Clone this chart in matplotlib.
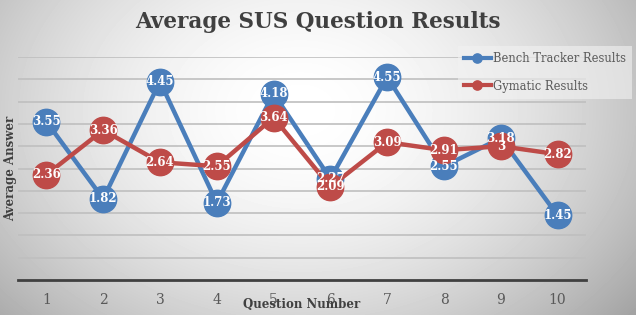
import numpy as np
import matplotlib
matplotlib.use("Agg")
import matplotlib.pyplot as plt

questions = [1, 2, 3, 4, 5, 6, 7, 8, 9, 10]
bench = [3.55, 1.82, 4.45, 1.73, 4.18, 2.27, 4.55, 2.55, 3.18, 1.45]
gymatic = [2.36, 3.36, 2.64, 2.55, 3.64, 2.09, 3.09, 2.91, 3.00, 2.82]
bench_labels = ["3.55", "1.82", "4.45", "1.73", "4.18", "2.27", "4.55", "2.55", "3.18", "1.45"]
gym_labels = ["2.36", "3.36", "2.64", "2.55", "3.64", "2.09", "3.09", "2.91", "3", "2.82"]

BLUE = "#4a7ebb"
RED = "#be4b48"
SERIF = ["DejaVu Serif"]

fig = plt.figure(figsize=(6.36, 3.15), dpi=100)

# radial gradient background
bg = fig.add_axes([0, 0, 1, 1], zorder=0)
h, w = 315, 636
yy, xx = np.mgrid[0:h, 0:w]
r = np.sqrt(((xx - 300) / 430.0) ** 2 + ((yy - 110) / 320.0) ** 2)
val = 1.0 - 0.36 * np.clip(r, 0, 1.2) ** 1.8
bg.imshow(val, cmap="gray", vmin=0, vmax=1, aspect="auto", interpolation="bilinear")
bg.axis("off")

ax = fig.add_axes([18 / 636, 35 / 315, 568 / 636, 223 / 315], zorder=1)
ax.patch.set_alpha(0)

ax.set_xlim(0.5, 10.5)
ax.set_ylim(0, 5)
ax.set_yticks(np.arange(0.5, 5.01, 0.5))
ax.yaxis.grid(True, color="#bfbfbf", linewidth=1.2)
ax.set_axisbelow(True)
ax.tick_params(axis="y", left=False, labelleft=False)
ax.tick_params(axis="x", bottom=False, labelsize=10, labelcolor="#595959", pad=6)
ax.set_xticks(questions)
ax.set_xticklabels([str(q) for q in questions], family=SERIF)
for s in ["top", "right", "left"]:
    ax.spines[s].set_visible(False)
ax.spines["bottom"].set_color("#404040")
ax.spines["bottom"].set_linewidth(2)

ax.plot(questions, bench, color=BLUE, linewidth=3.2, marker="o",
        markersize=19, label="Bench Tracker Results", zorder=3)
ax.plot(questions, gymatic, color=RED, linewidth=3.2, marker="o",
        markersize=19, label="Gymatic Results", zorder=4)

for x, y, t in zip(questions, bench, bench_labels):
    ax.text(x, y, t, ha="center", va="center", color="white",
            fontsize=8.5, fontweight="bold", family=SERIF, zorder=6)
for x, y, t in zip(questions, gymatic, gym_labels):
    ax.text(x, y, t, ha="center", va="center", color="white",
            fontsize=8.5, fontweight="bold", family=SERIF, zorder=6)

fig.text(0.5, 0.93, "Average SUS Question Results", ha="center", va="center",
         fontsize=15.5, fontweight="bold", color="#404040", family=SERIF)
fig.text(0.017, (315 - 168) / 315, "Average Answer", rotation=90,
         ha="center", va="center", fontsize=8.5, fontweight="bold",
         color="#404040", family=SERIF)
fig.text(302 / 636, 1 - 305 / 315, "Question Number", ha="center", va="center",
         fontsize=8.5, fontweight="bold", color="#404040", family=SERIF)

leg = ax.legend(loc="upper left", bbox_to_anchor=(452 / 636, 1 - 40 / 315),
                bbox_transform=fig.transFigure, frameon=True, fancybox=False,
                handlelength=2.3, handletextpad=0.2, labelspacing=1.25,
                borderpad=0.55, prop={"family": SERIF, "size": 8.3},
                markerscale=0.35)
leg.get_frame().set_facecolor("#f2f2f2")
leg.get_frame().set_alpha(0.6)
leg.get_frame().set_edgecolor("none")
for t in leg.get_texts():
    t.set_color("#595959")
for line in leg.get_lines():
    line.set_linewidth(3)

fig.savefig("out.png", dpi=100)
